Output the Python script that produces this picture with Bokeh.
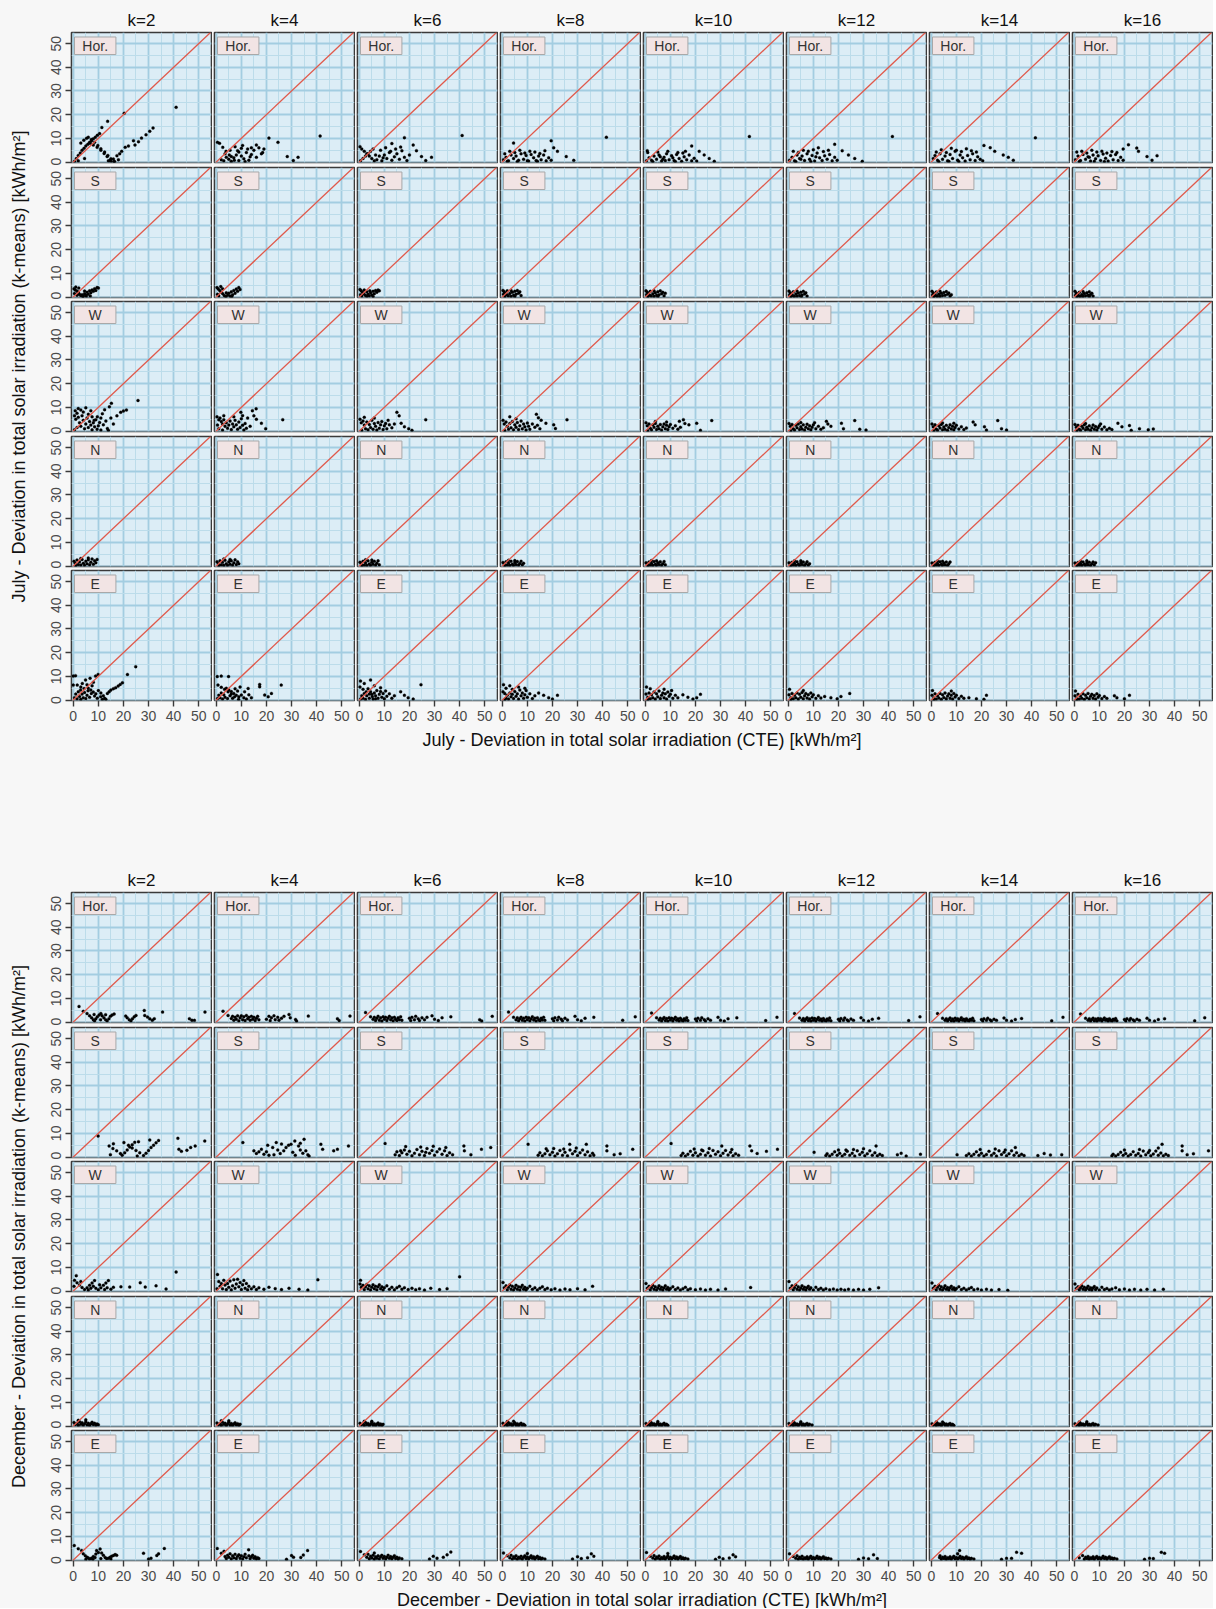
import math
from bokeh.plotting import figure
from bokeh.layouts import row, column
from bokeh.models import Range1d, Slope, Label, BoxAnnotation, FixedTicker, Spacer
from bokeh.embed import file_html
from bokeh.resources import INLINE
from bokeh.core.properties import value

# ---------------- text / categories ----------------
K_LABELS = ["k=2", "k=4", "k=6", "k=8", "k=10", "k=12", "k=14", "k=16"]
ORIENTS = ["Hor.", "S", "W", "N", "E"]
MAJOR_TICKS = [0, 10, 20, 30, 40, 50]
MINOR_TICKS = [5, 15, 25, 35, 45]
JUL_XTITLE = "July - Deviation in total solar irradiation (CTE) [kWh/m²]"
JUL_YTITLE = "July - Deviation in total solar irradiation (k-means) [kWh/m²]"
DEC_XTITLE = "December - Deviation in total solar irradiation (CTE) [kWh/m²]"
DEC_YTITLE = "December - Deviation in total solar irradiation (k-means) [kWh/m²]"

# ---------------- data: (CTE deviation, k-means deviation) per panel ----------------
JUL_HOR_K2 = [(0.5,0.3),(1.2,1.5),(2.0,2.8),(2.8,3.8),(3.5,5.0),(4.3,5.8),(5.0,6.8),(5.8,7.5),(6.5,8.3),(7.3,9.0),(8.0,9.8),(8.8,10.5),(9.6,11.3),(10.5,12.0),(11.4,14.6),(13.7,17.2),(3.0,8.0),(4.2,9.2),(5.3,10.0),(6.8,7.9),(8.0,7.2),(9.5,6.2),(11.0,5.0),(12.3,3.6),(13.5,2.3),(14.7,0.8),(6.0,10.5),(7.2,9.5),(8.5,8.3),(9.8,7.0),(11.0,5.6),(12.5,4.2),(13.8,2.8),(15.0,1.4),(16.2,0.2),(15.0,0.3),(16.0,1.3),(17.4,2.7),(18.5,3.5),(19.3,4.5),(20.7,6.2),(22.0,6.8),(24.0,9.0),(24.6,7.2),(26.0,8.6),(27.2,10.1),(29.0,11.5),(30.5,13.0),(31.8,14.4),(20.3,20.6),(41.0,23.1),(14.0,0.5),(16.5,0.2),(18.0,1.0),(2.0,0.5),(4.5,1.5)]
JUL_HOR_K4 = [(0.5,8.3),(1.3,7.9),(2.6,6.2),(3.9,4.5),(5.2,3.0),(6.0,2.3),(7.2,0.8),(2.0,1.0),(3.0,0.5),(4.0,2.0),(5.0,1.2),(6.0,0.3),(7.0,1.8),(8.0,3.0),(9.0,0.6),(10.0,2.5),(11.0,1.4),(12.0,4.0),(13.0,0.8),(14.0,3.2),(15.0,5.0),(16.0,2.0),(17.0,6.0),(18.0,3.5),(19.0,5.5),(5.5,5.0),(7.5,6.5),(9.0,4.2),(10.5,7.0),(12.5,5.5),(14.0,6.0),(16.0,7.2),(18.5,4.0),(21.0,10.1),(24.6,8.3),(28.3,2.3),(30.7,0.6),(32.6,2.0),(41.4,11.0),(3.5,3.5),(11.5,0.2),(13.5,2.2),(8.5,4.8),(10.0,5.8)]
JUL_HOR_K6 = [(0.3,6.5),(1.0,5.5),(2.0,4.5),(3.0,3.5),(4.0,2.5),(5.0,1.5),(6.0,0.5),(0.5,0.5),(1.5,1.5),(2.5,2.5),(3.5,3.5),(4.5,4.5),(5.5,5.5),(7.0,1.0),(8.0,2.5),(9.0,0.5),(10.0,3.0),(11.0,1.5),(12.0,4.0),(13.0,0.8),(14.0,2.2),(15.0,3.5),(16.0,1.2),(17.0,4.8),(18.0,2.0),(19.0,0.6),(20.0,3.0),(8.5,5.0),(10.5,6.0),(12.5,4.5),(14.5,5.5),(16.5,6.3),(13.0,7.8),(18.0,10.3),(21.5,7.2),(22.8,4.8),(24.8,2.3),(26.5,0.6),(28.8,2.0),(41.0,11.2),(6.5,3.0),(9.5,1.8)]
JUL_HOR_K8 = [(0.5,1.0),(1.5,2.0),(2.5,0.5),(3.5,3.0),(4.5,1.5),(5.5,2.5),(6.5,0.8),(7.5,3.5),(8.5,1.2),(9.5,2.8),(10.5,0.4),(11.5,3.2),(12.5,1.8),(13.5,0.6),(14.5,2.5),(15.5,1.0),(16.5,3.0),(17.5,0.5),(18.5,1.8),(19.5,0.8),(1.0,3.5),(3.0,4.5),(5.0,4.0),(7.0,5.0),(9.0,3.8),(11.0,4.6),(13.0,4.2),(15.0,3.6),(17.0,4.8),(2.0,0.3),(6.0,0.2),(10.0,0.5),(14.0,0.3),(4.5,8.0),(19.5,9.0),(20.5,6.0),(22.0,4.5),(25.5,2.3),(28.5,0.7),(41.5,10.5)]
JUL_HOR_K10 = [(0.5,0.5),(1.5,1.8),(2.5,0.8),(3.5,2.5),(4.5,1.2),(5.5,3.0),(6.5,0.4),(7.5,2.0),(8.5,3.5),(9.5,1.0),(10.5,2.6),(11.5,0.6),(12.5,3.2),(13.5,1.5),(14.5,0.3),(15.5,2.2),(16.5,1.0),(17.5,3.0),(18.5,0.5),(19.5,1.6),(20.5,0.4),(1.0,4.0),(3.0,0.2),(5.0,4.2),(7.0,1.2),(9.0,4.5),(11.0,1.8),(13.0,4.0),(15.0,3.8),(12.0,0.2),(8.0,0.6),(16.0,4.5),(0.8,4.8),(18.5,6.8),(21.5,4.5),(23.5,3.0),(25.5,1.5),(27.5,0.3),(41.5,10.8),(6.0,2.2)]
JUL_HOR_K12 = [(0.5,0.8),(1.5,2.0),(2.5,0.5),(3.5,3.0),(4.5,1.5),(5.5,2.5),(6.5,0.6),(7.5,3.5),(8.5,1.2),(9.5,2.8),(10.5,0.4),(11.5,3.8),(12.5,1.8),(13.5,0.6),(14.5,2.6),(15.5,1.2),(16.5,3.2),(17.5,0.5),(18.5,2.0),(19.5,0.8),(2.0,4.5),(4.0,4.0),(6.0,5.0),(8.0,4.6),(10.0,5.2),(12.0,6.0),(14.0,4.4),(16.0,5.0),(3.0,0.2),(9.0,0.2),(18.5,7.5),(21.5,4.8),(24.0,3.0),(26.5,1.5),(29.5,0.3),(41.5,10.8),(5.0,1.2),(11.0,2.2)]
JUL_HOR_K14 = [(0.8,1.5),(1.5,2.8),(2.5,0.8),(3.5,3.5),(4.5,1.2),(5.5,2.5),(6.5,0.5),(7.5,3.2),(8.5,1.5),(9.5,4.5),(10.5,0.8),(11.5,3.0),(12.5,1.8),(13.5,0.4),(14.5,2.8),(15.5,1.0),(16.5,3.5),(17.5,0.6),(18.5,2.2),(19.5,1.2),(20.5,0.5),(2.0,4.2),(4.0,5.2),(6.0,4.0),(8.0,5.8),(10.0,5.0),(12.0,4.4),(14.0,5.6),(16.0,4.8),(18.0,4.2),(3.0,0.2),(7.0,0.3),(11.0,0.2),(21.0,7.0),(23.5,6.0),(25.3,4.5),(28.7,3.0),(30.7,2.0),(32.7,0.8),(41.5,10.2)]
JUL_HOR_K16 = [(0.5,1.0),(1.5,2.5),(2.5,0.6),(3.5,3.2),(4.5,1.2),(5.5,2.2),(6.5,0.4),(7.5,3.0),(8.5,1.4),(9.5,2.6),(10.5,0.6),(11.5,3.4),(12.5,1.6),(13.5,0.4),(14.5,2.8),(15.5,1.0),(16.5,3.2),(17.5,0.6),(18.5,2.0),(19.5,0.8),(1.0,4.2),(3.0,4.6),(5.0,3.8),(7.0,5.0),(9.0,4.2),(11.0,4.6),(13.0,3.8),(15.0,4.4),(17.0,4.0),(2.0,0.2),(8.0,0.3),(12.0,0.2),(21.6,7.3),(24.9,5.9),(25.6,4.5),(29.0,2.3),(31.0,0.8),(33.0,2.7),(19.5,5.5),(6.0,2.0)]

JUL_S_K2 = [(0.3,3.5),(0.8,3.0),(1.5,2.5),(2.0,2.0),(2.5,1.2),(3.0,0.6),(3.5,1.0),(4.0,0.4),(4.5,1.4),(5.0,0.8),(5.5,2.0),(6.0,1.2),(6.5,2.6),(7.0,1.8),(7.5,3.0),(8.0,2.4),(8.5,3.5),(9.0,2.8),(9.5,4.0),(10.0,3.8),(1.0,4.2),(2.2,3.8),(3.8,0.2),(5.2,0.3),(6.8,0.4),(1.5,0.8),(4.5,2.5),(0.5,1.5)]
JUL_S_K4 = [(0.3,4.0),(0.8,3.4),(1.4,2.8),(2.0,2.0),(2.6,1.4),(3.2,0.6),(3.8,0.2),(4.5,0.8),(5.0,1.6),(5.5,0.4),(6.0,2.2),(6.5,1.0),(7.0,2.8),(7.5,1.6),(8.0,3.4),(8.5,2.4),(9.0,4.0),(9.5,3.2),(1.0,0.5),(2.5,3.5),(4.0,1.8),(6.2,0.2),(1.8,4.4),(0.5,1.2)]
JUL_S_K6 = [(0.3,3.2),(0.8,2.6),(1.3,2.0),(1.8,1.4),(2.4,0.8),(3.0,0.3),(3.5,1.2),(4.0,0.5),(4.5,1.8),(5.0,0.9),(5.5,2.4),(6.0,1.4),(6.5,2.8),(7.0,2.0),(7.5,3.0),(8.0,2.6),(1.0,0.4),(2.0,3.0),(3.0,2.2),(0.5,1.0),(4.2,2.6),(5.5,0.2)]
JUL_S_K8 = [(0.3,2.8),(0.8,2.2),(1.3,1.6),(1.8,1.0),(2.4,0.5),(3.0,1.5),(3.5,0.3),(4.0,2.0),(4.5,0.8),(5.0,2.4),(5.5,1.2),(6.0,2.8),(6.5,1.6),(7.0,2.2),(7.5,0.6),(1.0,0.3),(2.0,2.6),(0.5,1.2),(3.5,2.8),(5.0,0.2)]
JUL_S_K10 = [(0.3,2.6),(0.8,2.0),(1.3,1.4),(1.8,0.8),(2.4,0.4),(3.0,1.4),(3.5,0.3),(4.0,1.8),(4.5,0.7),(5.0,2.2),(5.5,1.0),(6.0,2.6),(6.5,1.4),(7.0,2.0),(7.5,0.5),(1.0,0.2),(2.0,2.4),(0.5,1.0),(3.5,2.6),(5.0,0.2),(8.0,1.6)]
JUL_S_K12 = [(0.3,2.5),(0.8,1.8),(1.3,1.2),(1.8,0.6),(2.4,0.3),(3.0,1.3),(3.5,0.4),(4.0,1.7),(4.5,0.6),(5.0,2.0),(5.5,0.9),(6.0,2.4),(6.5,1.3),(7.0,1.8),(7.5,0.4),(1.0,0.2),(2.0,2.2),(0.5,0.9),(3.5,2.5),(5.2,0.2)]
JUL_S_K14 = [(0.3,2.4),(0.8,1.7),(1.3,1.1),(1.8,0.6),(2.4,0.3),(3.0,1.2),(3.5,0.3),(4.0,1.6),(4.5,0.6),(5.0,1.9),(5.5,0.8),(6.0,2.3),(6.5,1.2),(7.0,1.7),(7.5,0.4),(1.0,0.2),(2.0,2.1),(0.5,0.9),(3.5,2.4),(8.0,1.0)]
JUL_S_K16 = [(0.3,2.4),(0.8,1.6),(1.3,1.0),(1.8,0.5),(2.4,0.3),(3.0,1.1),(3.5,0.3),(4.0,1.5),(4.5,0.5),(5.0,1.8),(5.5,0.8),(6.0,2.2),(6.5,1.1),(7.0,1.6),(7.5,0.4),(1.0,0.2),(2.0,2.0),(0.5,0.8),(3.5,2.3),(6.0,0.3)]

JUL_W_K2 = [(0.8,8.6),(1.5,7.5),(3.0,8.9),(4.0,8.0),(6.0,7.1),(7.5,6.0),(9.0,4.8),(10.5,3.6),(12.0,2.6),(13.6,1.1),(0.5,6.5),(1.0,5.0),(2.0,5.8),(2.5,3.5),(3.0,2.0),(4.0,4.5),(4.5,1.0),(5.0,3.0),(5.5,5.5),(6.0,1.5),(6.5,4.0),(7.0,2.5),(7.5,0.5),(8.0,3.5),(8.5,1.8),(9.5,0.8),(10.0,2.2),(11.0,0.4),(1.5,1.5),(0.5,0.5),(2.0,9.5),(5.0,9.8),(7.0,8.6),(8.3,4.5),(9.6,6.0),(11.6,7.3),(12.5,9.0),(14.4,10.2),(15.2,11.7),(17.4,6.4),(18.9,7.9),(20.0,8.5),(21.2,8.9),(25.8,12.9),(11.0,5.5),(13.0,4.2),(15.0,5.5),(16.0,3.0),(14.0,0.3),(3.5,6.5)]
JUL_W_K4 = [(0.3,6.0),(1.0,4.8),(1.5,5.5),(2.0,4.0),(2.5,3.0),(3.0,4.8),(3.5,2.0),(4.0,3.5),(4.5,1.2),(5.0,2.5),(5.5,4.2),(6.0,0.6),(6.5,3.0),(7.0,1.8),(7.5,4.5),(8.0,2.6),(8.5,0.8),(9.0,3.8),(9.5,1.5),(10.0,5.2),(10.5,2.4),(11.0,0.4),(11.5,3.2),(12.0,1.2),(1.0,1.0),(0.5,2.5),(2.5,0.4),(9.8,7.9),(10.5,6.5),(12.5,5.5),(14.4,8.6),(15.9,9.4),(15.0,6.4),(16.0,5.0),(18.0,3.3),(19.7,1.0),(26.5,4.8),(13.5,2.0),(3.0,6.5),(7.0,6.0)]
JUL_W_K6 = [(0.3,5.0),(0.8,3.5),(1.5,4.2),(2.0,2.5),(2.5,1.0),(3.0,3.8),(3.5,0.5),(4.0,2.8),(4.5,1.5),(5.0,4.5),(5.5,0.8),(6.0,3.2),(6.5,2.0),(7.0,0.4),(7.5,3.6),(8.0,1.2),(8.5,2.6),(9.0,4.0),(9.5,0.6),(10.0,2.2),(10.5,3.2),(11.0,1.0),(12.0,2.6),(13.0,1.4),(14.0,3.0),(1.0,0.3),(2.0,5.8),(11.5,4.5),(15.0,7.9),(15.9,6.4),(16.7,3.3),(18.0,1.8),(19.7,1.0),(21.0,0.3),(26.5,4.8),(6.0,5.5)]
JUL_W_K8 = [(0.3,4.5),(0.8,3.0),(1.5,3.8),(2.0,2.0),(2.5,0.8),(3.0,3.2),(3.5,1.4),(4.0,4.0),(4.5,0.5),(5.0,2.6),(5.5,1.6),(6.0,3.6),(6.5,0.6),(7.0,2.2),(7.5,4.2),(8.0,1.0),(8.5,3.0),(9.0,1.8),(9.5,0.4),(10.0,3.4),(10.5,2.0),(11.0,0.8),(12.0,3.0),(13.0,1.6),(14.0,2.4),(15.0,1.0),(1.0,0.2),(5.5,5.2),(13.6,7.1),(14.4,5.6),(15.5,4.6),(17.4,3.3),(20.5,2.6),(21.2,1.1),(25.8,4.8),(3.0,6.0)]
JUL_W_K10 = [(0.3,3.5),(0.8,2.2),(1.5,3.0),(2.0,1.2),(2.5,0.5),(3.0,2.6),(3.5,1.6),(4.0,3.2),(4.5,0.6),(5.0,2.0),(5.5,1.0),(6.0,2.8),(6.5,0.4),(7.0,1.8),(7.5,3.0),(8.0,1.0),(8.5,2.4),(9.0,0.6),(9.5,1.8),(10.0,2.8),(11.0,1.2),(12.0,2.2),(13.0,0.8),(14.0,1.6),(1.0,0.2),(4.0,4.0),(13.6,4.1),(15.2,4.8),(15.8,3.2),(17.4,2.6),(20.5,3.3),(22.0,0.3),(26.5,4.4),(8.5,3.8)]
JUL_W_K12 = [(0.3,3.2),(0.8,2.0),(1.5,2.8),(2.0,1.0),(2.5,0.4),(3.0,2.4),(3.5,1.4),(4.0,3.0),(4.5,0.6),(5.0,1.8),(5.5,0.9),(6.0,2.6),(6.5,0.4),(7.0,1.6),(7.5,2.9),(8.0,1.0),(8.5,2.2),(9.0,0.5),(9.5,1.6),(10.0,2.6),(11.0,1.0),(12.0,2.0),(13.0,0.7),(14.0,1.4),(1.0,0.2),(5.0,3.6),(15.2,4.1),(15.8,3.0),(17.0,2.0),(21.2,3.3),(22.0,1.0),(26.5,4.4),(10.5,3.5),(28.5,0.8),(31.0,0.4)]
JUL_W_K14 = [(0.3,3.0),(0.8,1.8),(1.5,2.6),(2.0,0.9),(2.5,0.3),(3.0,2.2),(3.5,1.3),(4.0,2.8),(4.5,0.5),(5.0,1.7),(5.5,0.8),(6.0,2.4),(6.5,0.3),(7.0,1.5),(7.5,2.7),(8.0,0.9),(8.5,2.0),(9.0,0.5),(9.5,1.5),(10.0,2.4),(11.0,0.9),(12.0,1.8),(13.0,0.6),(14.0,1.3),(1.0,0.2),(4.5,3.4),(16.7,3.8),(17.5,2.6),(21.2,1.8),(22.0,0.4),(26.5,4.4),(9.0,3.3),(28.0,1.0),(30.0,0.4)]
JUL_W_K16 = [(0.3,2.8),(0.8,1.6),(1.5,2.4),(2.0,0.8),(2.5,0.3),(3.0,2.0),(3.5,1.2),(4.0,2.6),(4.5,0.5),(5.0,1.6),(5.5,0.8),(6.0,2.2),(6.5,0.3),(7.0,1.4),(7.5,2.5),(8.0,0.8),(8.5,1.9),(9.0,0.4),(9.5,1.4),(10.0,2.2),(11.0,0.8),(12.0,1.7),(13.0,0.5),(14.0,1.2),(15.0,0.6),(1.0,0.2),(4.5,3.2),(17.4,3.3),(19.0,1.8),(22.0,2.3),(22.7,0.3),(10.5,3.0),(26.0,1.0),(29.5,0.5),(31.5,0.9)]

JUL_N_K2 = [(0.3,2.0),(0.8,1.2),(1.5,2.5),(2.0,0.6),(2.5,1.8),(3.0,0.4),(3.5,2.8),(4.0,1.2),(4.5,0.3),(5.0,2.0),(5.5,1.0),(6.0,2.6),(6.5,0.5),(7.0,1.6),(7.5,3.0),(8.0,0.8),(8.5,2.2),(9.0,1.4),(9.5,2.8),(1.0,0.2),(3.0,3.2),(6.0,3.4)]
JUL_N_K4 = [(0.3,1.8),(0.8,1.0),(1.5,2.2),(2.0,0.5),(2.5,1.6),(3.0,0.3),(3.5,2.4),(4.0,1.0),(4.5,0.3),(5.0,1.8),(5.5,0.8),(6.0,2.2),(6.5,0.4),(7.0,1.4),(7.5,2.6),(8.0,0.6),(8.5,1.8),(9.0,1.0),(1.0,0.2),(3.0,3.0),(5.5,2.8)]
JUL_N_K6 = [(0.3,1.6),(0.8,0.9),(1.5,2.0),(2.0,0.4),(2.5,1.4),(3.0,0.3),(3.5,2.2),(4.0,0.9),(4.5,0.3),(5.0,1.6),(5.5,0.7),(6.0,2.0),(6.5,0.4),(7.0,1.2),(7.5,2.2),(8.0,0.5),(1.0,0.2),(2.5,2.6),(5.0,2.5)]
JUL_N_K8 = [(0.3,1.5),(0.8,0.8),(1.5,1.8),(2.0,0.4),(2.5,1.3),(3.0,0.3),(3.5,2.0),(4.0,0.8),(4.5,0.3),(5.0,1.5),(5.5,0.6),(6.0,1.9),(6.5,0.4),(7.0,1.1),(7.5,2.0),(8.0,0.5),(1.0,0.2),(2.5,2.4),(5.0,2.3),(8.5,1.2)]
JUL_N_K10 = [(0.3,1.4),(0.8,0.8),(1.5,1.7),(2.0,0.4),(2.5,1.2),(3.0,0.3),(3.5,1.9),(4.0,0.8),(4.5,0.3),(5.0,1.4),(5.5,0.6),(6.0,1.8),(6.5,0.4),(7.0,1.0),(7.5,1.9),(8.0,0.5),(1.0,0.2),(2.5,2.3),(4.5,2.2)]
JUL_N_K12 = [(0.3,1.4),(0.8,0.7),(1.5,1.6),(2.0,0.4),(2.5,1.2),(3.0,0.3),(3.5,1.8),(4.0,0.7),(4.5,0.3),(5.0,1.4),(5.5,0.6),(6.0,1.7),(6.5,0.3),(7.0,1.0),(7.5,1.8),(8.0,0.4),(1.0,0.2),(2.5,2.2),(5.0,2.2),(8.5,1.0)]
JUL_N_K14 = [(0.3,1.3),(0.8,0.7),(1.5,1.6),(2.0,0.4),(2.5,1.1),(3.0,0.3),(3.5,1.8),(4.0,0.7),(4.5,0.3),(5.0,1.3),(5.5,0.5),(6.0,1.7),(6.5,0.3),(7.0,1.0),(7.5,1.7),(1.0,0.2),(2.5,2.1),(4.5,2.0)]
JUL_N_K16 = [(0.3,1.3),(0.8,0.7),(1.5,1.5),(2.0,0.4),(2.5,1.1),(3.0,0.3),(3.5,1.7),(4.0,0.7),(4.5,0.3),(5.0,1.3),(5.5,0.5),(6.0,1.6),(6.5,0.3),(7.0,1.0),(7.5,1.7),(8.0,0.5),(1.0,0.2),(2.5,2.0),(5.0,2.2),(8.5,1.4)]

JUL_E_K2 = [(0.0,10.1),(0.9,10.3),(0.0,6.3),(1.6,6.3),(3.6,7.0),(4.9,8.5),(6.7,9.2),(8.9,10.1),(9.9,10.8),(2.9,4.2),(4.3,4.9),(5.9,3.9),(7.2,2.8),(8.5,1.7),(9.6,0.7),(10.9,1.4),(11.6,0.3),(13.6,2.8),(14.3,3.5),(16.9,5.2),(17.9,5.9),(18.7,6.6),(19.6,7.3),(21.6,10.8),(24.9,14.1),(0.5,1.0),(1.0,2.5),(1.5,0.5),(2.0,3.5),(2.5,1.5),(3.0,0.3),(3.5,2.5),(4.0,1.0),(4.5,3.2),(5.0,0.6),(5.5,2.0),(6.0,5.0),(6.5,1.2),(7.0,4.2),(7.5,6.0),(8.0,3.4),(9.0,2.6),(10.0,4.0),(11.0,3.0),(12.0,1.8),(12.5,0.8),(13.0,0.3),(15.0,4.2),(16.0,4.8),(3.0,5.5),(5.5,6.5),(8.0,7.5)]
JUL_E_K4 = [(0.4,9.9),(2.0,10.1),(4.9,9.9),(0.7,6.3),(2.0,5.4),(3.3,4.5),(4.7,3.5),(6.0,2.5),(7.3,1.4),(8.9,0.3),(0.5,0.6),(1.0,2.0),(1.5,1.0),(2.0,3.0),(2.5,0.4),(3.0,2.2),(3.5,1.2),(4.0,5.0),(4.5,0.6),(5.0,4.2),(5.5,1.8),(6.0,3.6),(6.5,0.8),(7.0,2.8),(7.5,4.8),(8.0,2.0),(8.5,3.8),(9.0,1.4),(10.0,2.1),(11.3,3.5),(12.7,4.9),(11.0,1.0),(12.0,0.4),(13.0,2.2),(14.0,1.0),(17.3,6.6),(17.3,5.6),(19.3,2.1),(20.7,1.4),(22.0,2.8),(25.9,6.3),(9.5,5.5)]
JUL_E_K6 = [(0.5,8.0),(2.0,7.0),(4.5,8.5),(0.3,5.5),(1.5,4.5),(2.8,3.5),(4.0,2.5),(5.2,1.5),(6.5,0.5),(0.5,0.4),(1.0,1.8),(1.5,0.8),(2.0,2.8),(2.5,0.3),(3.0,1.8),(3.5,4.8),(4.0,0.8),(4.5,3.5),(5.0,2.4),(5.5,0.4),(6.0,3.0),(6.5,1.8),(7.0,4.0),(7.5,0.8),(8.0,2.4),(8.5,3.6),(9.0,1.2),(9.5,2.8),(10.0,0.5),(10.5,3.8),(11.0,1.6),(12.0,2.6),(13.0,0.8),(14.0,1.8),(6.0,6.0),(8.5,5.2),(16.5,3.5),(18.0,2.0),(19.5,1.0),(21.5,0.4),(24.6,6.5)]
JUL_E_K8 = [(0.5,6.5),(1.5,5.0),(3.0,6.0),(0.3,3.5),(1.0,2.8),(1.5,0.8),(2.0,2.0),(2.5,0.4),(3.0,3.0),(3.5,1.4),(4.0,2.4),(4.5,0.6),(5.0,3.6),(5.5,1.6),(6.0,2.6),(6.5,0.4),(7.0,4.2),(7.5,1.8),(8.0,3.0),(8.5,0.8),(9.0,2.2),(9.5,4.0),(10.0,1.2),(11.0,2.6),(12.0,0.6),(13.0,1.8),(1.0,0.2),(6.5,5.5),(9.0,5.0),(14.5,3.0),(16.5,2.0),(18.5,1.0),(20.0,0.4),(22.0,2.0),(4.0,4.5)]
JUL_E_K10 = [(0.5,5.5),(2.0,4.8),(0.3,2.5),(1.0,1.2),(1.5,3.0),(2.0,0.5),(2.5,2.2),(3.0,1.0),(3.5,3.4),(4.0,0.4),(4.5,2.6),(5.0,1.4),(5.5,3.8),(6.0,0.6),(6.5,2.0),(7.0,3.0),(7.5,1.0),(8.0,2.6),(8.5,0.4),(9.0,3.4),(9.5,1.6),(10.0,2.4),(11.0,0.8),(12.0,2.0),(13.0,1.0),(1.0,0.2),(7.5,4.6),(10.5,4.0),(15.0,2.2),(17.0,1.2),(19.0,0.4),(20.5,1.0),(22.0,2.4)]
JUL_E_K12 = [(0.5,4.5),(0.3,2.2),(1.0,1.0),(1.5,2.8),(2.0,0.5),(2.5,2.0),(3.0,1.0),(3.5,3.0),(4.0,0.4),(4.5,2.4),(5.0,1.2),(5.5,3.2),(6.0,0.5),(6.5,1.8),(7.0,2.8),(7.5,0.9),(8.0,2.2),(8.5,0.4),(9.0,3.0),(9.5,1.4),(10.0,2.2),(11.0,0.7),(12.0,1.8),(13.0,0.9),(1.0,0.2),(6.0,4.0),(14.5,1.5),(17.0,1.0),(19.5,0.5),(21.0,1.5),(24.5,2.8)]
JUL_E_K14 = [(0.5,4.0),(0.3,2.0),(1.0,0.9),(1.5,2.6),(2.0,0.4),(2.5,1.8),(3.0,0.9),(3.5,2.8),(4.0,0.3),(4.5,2.2),(5.0,1.1),(5.5,3.0),(6.0,0.5),(6.5,1.7),(7.0,2.6),(7.5,0.8),(8.0,2.0),(8.5,0.4),(9.0,2.8),(9.5,1.3),(10.0,2.0),(11.0,0.6),(12.0,1.6),(13.0,0.8),(1.0,0.2),(8.0,3.8),(15.0,1.0),(18.0,0.5),(21.0,0.3),(22.0,2.0)]
JUL_E_K16 = [(0.5,3.8),(0.3,1.8),(1.0,0.8),(1.5,2.4),(2.0,0.4),(2.5,1.7),(3.0,0.8),(3.5,2.6),(4.0,0.3),(4.5,2.0),(5.0,1.0),(5.5,2.8),(6.0,0.5),(6.5,1.6),(7.0,2.4),(7.5,0.7),(8.0,1.9),(8.5,0.4),(9.0,2.6),(9.5,1.2),(10.0,1.9),(11.0,0.6),(12.0,1.5),(13.0,0.7),(1.0,0.2),(17.0,1.0),(20.0,0.5),(22.0,2.0),(16.0,1.8)]

DEC_HOR_K2 = [(2.3,6.6),(4.0,4.5),(5.5,3.6),(6.5,2.6),(7.3,1.8),(8.0,1.0),(8.5,0.5),(9.0,1.4),(9.6,2.2),(10.3,3.0),(11.0,3.6),(11.5,2.6),(12.2,1.8),(12.9,1.0),(13.5,0.5),(14.2,1.4),(14.8,2.4),(15.5,3.0),(16.3,3.4),(8.3,3.2),(10.9,1.0),(12.9,3.1),(20.9,2.5),(21.5,1.8),(22.3,1.0),(23.0,0.5),(23.6,1.4),(24.3,2.2),(25.0,2.8),(28.3,4.9),(28.5,2.8),(29.6,2.1),(30.5,1.4),(31.5,0.8),(32.3,1.4),(35.6,4.2),(46.3,1.4),(47.3,0.8),(48.3,0.7),(52.5,4.2)]
DEC_HOR_K4 = [(2.7,4.6),(4.7,2.8),(6.0,1.5),(6.5,2.4),(7.0,0.8),(7.5,2.0),(8.0,1.2),(8.5,2.6),(9.0,0.5),(9.5,1.8),(10.0,2.6),(10.5,1.0),(11.0,2.2),(11.5,0.6),(12.0,2.8),(12.5,1.4),(13.0,2.0),(13.5,0.8),(14.0,2.4),(14.5,1.2),(15.0,2.0),(15.5,0.6),(16.0,1.6),(16.5,2.4),(17.0,1.0),(20.0,1.2),(21.0,2.4),(21.5,0.6),(22.0,1.8),(23.0,2.6),(23.5,1.0),(24.5,2.0),(25.0,0.8),(26.0,1.6),(27.0,2.4),(29.0,3.2),(29.5,1.8),(31.6,1.1),(32.0,0.4),(36.7,2.5),(48.3,1.4),(49.0,0.6),(53.3,2.5)]
DEC_HOR_K6 = [(2.5,4.0),(4.5,2.2),(5.5,1.2),(6.0,2.0),(6.5,0.6),(7.0,1.6),(7.5,2.4),(8.0,0.8),(8.5,1.8),(9.0,0.4),(9.5,2.2),(10.0,1.2),(10.5,2.0),(11.0,0.6),(11.5,1.6),(12.0,2.4),(12.5,1.0),(13.0,1.8),(13.5,0.5),(14.0,2.0),(14.5,1.2),(15.0,0.6),(15.5,1.8),(16.0,1.0),(16.5,2.2),(17.0,0.8),(20.0,1.6),(20.5,0.6),(21.0,2.0),(22.0,1.0),(22.5,2.4),(23.5,1.4),(24.0,0.6),(25.0,1.8),(26.0,1.0),(27.0,2.0),(29.0,2.6),(30.0,1.2),(31.5,0.6),(33.0,1.8),(36.5,2.2),(48.0,1.0),(48.8,0.4),(53.0,2.4)]
DEC_HOR_K8 = [(2.5,4.2),(4.5,2.0),(5.5,1.0),(6.0,1.8),(6.5,0.5),(7.0,1.4),(7.5,2.0),(8.0,0.7),(8.5,1.6),(9.0,0.4),(9.5,2.0),(10.0,1.0),(10.5,1.8),(11.0,0.5),(11.5,1.4),(12.0,2.2),(12.5,0.9),(13.0,1.6),(13.5,0.4),(14.0,1.8),(14.5,1.0),(15.0,0.5),(15.5,1.6),(16.0,0.9),(16.5,2.0),(17.0,0.7),(20.0,1.4),(20.5,0.5),(21.0,1.8),(22.0,0.9),(22.5,2.0),(23.5,1.2),(24.0,0.5),(25.0,1.6),(26.0,0.9),(29.0,2.4),(30.0,1.0),(31.5,0.5),(33.0,1.6),(36.5,2.0),(48.0,0.8),(53.0,2.2)]
DEC_HOR_K10 = [(2.5,3.8),(4.5,1.8),(5.5,0.9),(6.0,1.6),(6.5,0.4),(7.0,1.3),(7.5,1.9),(8.0,0.6),(8.5,1.5),(9.0,0.4),(9.5,1.8),(10.0,0.9),(10.5,1.6),(11.0,0.4),(11.5,1.3),(12.0,2.0),(12.5,0.8),(13.0,1.4),(13.5,0.4),(14.0,1.6),(14.5,0.9),(15.0,0.4),(15.5,1.4),(16.0,0.8),(16.5,1.8),(17.0,0.6),(20.0,1.3),(20.5,0.4),(21.0,1.6),(22.0,0.8),(22.5,1.8),(23.5,1.0),(24.0,0.4),(25.0,1.4),(26.0,0.8),(29.0,2.0),(30.0,0.8),(31.5,0.4),(33.0,1.4),(36.5,1.8),(48.0,0.6),(52.5,2.0)]
DEC_HOR_K12 = [(2.5,3.6),(4.5,1.7),(5.5,0.8),(6.0,1.5),(6.5,0.4),(7.0,1.2),(7.5,1.8),(8.0,0.6),(8.5,1.4),(9.0,0.4),(9.5,1.7),(10.0,0.8),(10.5,1.5),(11.0,0.4),(11.5,1.2),(12.0,1.9),(12.5,0.7),(13.0,1.3),(13.5,0.4),(14.0,1.5),(14.5,0.8),(15.0,0.4),(15.5,1.3),(16.0,0.7),(16.5,1.7),(17.0,0.5),(20.0,1.2),(20.5,0.4),(21.0,1.5),(22.0,0.7),(22.5,1.7),(23.5,0.9),(24.0,0.4),(25.0,1.3),(26.0,0.7),(29.0,1.8),(30.0,0.7),(32.0,0.4),(33.5,1.2),(36.0,1.6),(48.0,0.6),(52.5,2.2)]
DEC_HOR_K14 = [(2.5,3.6),(4.5,1.6),(5.5,0.8),(6.0,1.4),(6.5,0.4),(7.0,1.1),(7.5,1.7),(8.0,0.5),(8.5,1.3),(9.0,0.4),(9.5,1.6),(10.0,0.8),(10.5,1.4),(11.0,0.4),(11.5,1.1),(12.0,1.8),(12.5,0.7),(13.0,1.2),(13.5,0.4),(14.0,1.4),(14.5,0.8),(15.0,0.4),(15.5,1.2),(16.0,0.7),(16.5,1.6),(17.0,0.5),(20.0,1.1),(20.5,0.4),(21.0,1.4),(22.0,0.7),(22.5,1.6),(23.5,0.9),(24.0,0.4),(25.0,1.2),(26.0,0.7),(29.0,1.7),(30.0,0.7),(32.0,0.4),(33.5,1.1),(36.0,1.5),(48.0,0.5),(52.5,2.0)]
DEC_HOR_K16 = [(2.5,3.4),(4.5,1.6),(5.5,0.8),(6.0,1.4),(6.5,0.4),(7.0,1.1),(7.5,1.6),(8.0,0.5),(8.5,1.3),(9.0,0.4),(9.5,1.5),(10.0,0.8),(10.5,1.4),(11.0,0.4),(11.5,1.1),(12.0,1.7),(12.5,0.7),(13.0,1.2),(13.5,0.4),(14.0,1.4),(14.5,0.7),(15.0,0.4),(15.5,1.2),(16.0,0.7),(16.5,1.5),(17.0,0.5),(20.0,1.1),(20.5,0.4),(21.0,1.4),(22.0,0.7),(22.5,1.5),(23.5,0.9),(24.0,0.4),(25.0,1.2),(26.0,0.7),(29.0,1.6),(30.0,0.7),(32.0,0.4),(33.5,1.1),(36.0,1.4),(48.0,0.5),(52.0,1.8)]

DEC_S_K2 = [(9.9,8.9),(14.3,4.7),(15.8,3.6),(17.3,2.6),(18.8,1.5),(19.5,0.8),(20.5,1.8),(21.5,3.0),(22.5,4.2),(23.5,5.2),(24.5,6.2),(22.0,5.0),(23.5,3.8),(25.0,2.8),(26.5,1.8),(28.0,0.6),(29.0,1.6),(30.0,2.8),(31.0,4.0),(32.0,5.0),(33.0,6.0),(34.0,7.0),(16.0,5.6),(20.2,6.1),(26.0,6.5),(30.5,7.2),(41.7,7.9),(42.1,3.3),(43.1,2.4),(45.3,2.9),(46.8,4.0),(48.6,4.7),(52.4,6.8),(14.8,1.0),(25.5,0.4)]
DEC_S_K4 = [(10.6,6.1),(15.0,2.6),(16.0,1.5),(17.0,2.2),(18.0,3.3),(19.0,1.2),(20.0,2.2),(21.0,0.8),(22.5,4.0),(23.9,6.1),(24.5,3.0),(25.5,1.5),(26.9,2.6),(27.8,4.0),(28.8,5.0),(29.8,5.4),(31.3,6.8),(30.5,2.0),(31.5,0.8),(32.8,4.7),(33.5,3.0),(34.5,1.6),(35.0,7.5),(35.7,2.6),(36.5,1.0),(37.0,0.4),(20.5,5.0),(26.0,5.5),(33.5,5.8),(23.0,1.0),(41.7,5.4),(42.4,3.3),(46.8,2.6),(48.3,3.3),(52.7,4.7)]
DEC_S_K6 = [(10.3,5.7),(14.3,1.0),(15.0,2.2),(16.0,0.6),(17.0,1.8),(18.0,3.0),(19.0,1.2),(20.0,2.4),(21.0,0.5),(22.0,1.6),(23.0,3.2),(24.0,1.0),(25.0,2.4),(26.0,0.6),(27.0,3.6),(28.0,1.6),(29.0,2.8),(30.0,0.8),(31.0,2.2),(32.0,3.4),(33.0,1.2),(34.0,2.6),(35.0,0.6),(36.0,1.8),(37.2,1.0),(18.5,4.4),(24.5,4.2),(29.5,4.6),(34.5,4.0),(41.7,4.7),(41.9,2.6),(44.5,1.0),(48.7,3.3),(52.4,4.0),(16.5,2.6),(26.5,2.0)]
DEC_S_K8 = [(10.3,5.4),(14.3,0.8),(15.0,1.8),(16.0,0.5),(17.0,1.4),(18.0,2.6),(19.0,1.0),(20.0,2.0),(21.0,0.4),(22.0,1.4),(23.0,2.8),(24.0,0.8),(25.0,2.0),(26.0,0.5),(26.9,5.4),(27.0,3.0),(28.0,1.4),(29.0,2.4),(30.0,0.6),(31.0,1.8),(32.0,3.0),(33.0,1.0),(33.5,5.4),(34.0,2.2),(35.0,0.5),(36.0,1.6),(36.5,0.8),(20.5,3.6),(24.5,3.4),(29.5,3.8),(41.7,4.7),(41.7,2.6),(44.6,1.0),(47.0,1.4),(52.0,3.3),(17.5,3.5)]
DEC_S_K10 = [(10.3,5.7),(14.3,0.6),(15.0,1.6),(16.0,0.4),(17.0,1.2),(18.0,2.4),(19.0,0.8),(20.0,1.8),(21.0,0.4),(22.0,1.2),(23.0,2.6),(24.0,0.8),(25.0,1.8),(26.0,0.4),(27.0,2.8),(28.0,1.2),(29.0,2.2),(30.0,0.5),(31.0,1.6),(32.0,2.8),(33.0,0.9),(34.0,2.0),(35.0,0.5),(36.0,1.4),(37.2,0.8),(19.5,3.4),(25.5,3.6),(30.5,4.7),(34.5,3.2),(41.7,4.7),(42.4,2.6),(44.6,1.5),(48.3,2.4),(52.7,3.3),(22.5,3.0)]
DEC_S_K12 = [(10.3,2.0),(15.0,0.6),(15.5,1.4),(16.5,0.4),(17.5,1.2),(18.5,2.2),(19.5,0.8),(20.5,1.6),(21.5,0.4),(22.5,1.2),(23.5,2.4),(24.5,0.7),(25.5,1.6),(26.5,0.4),(27.5,2.6),(28.5,1.1),(29.5,2.0),(30.5,0.5),(31.5,1.4),(32.5,2.6),(33.5,0.8),(34.5,1.8),(35.5,0.5),(36.5,1.2),(37.5,0.6),(35.0,4.7),(20.0,3.0),(26.0,3.2),(30.0,3.5),(43.5,1.0),(45.0,1.6),(47.0,0.4),(52.7,1.2),(23.0,3.0)]
DEC_S_K14 = [(14.0,0.6),(15.0,1.4),(16.0,0.4),(17.0,1.2),(18.0,2.2),(19.0,0.7),(20.0,1.6),(21.0,0.4),(22.0,1.1),(23.0,2.4),(24.0,0.7),(25.0,1.6),(26.0,0.4),(27.0,2.6),(28.0,1.1),(29.0,2.0),(30.0,0.5),(31.0,1.4),(32.0,2.6),(33.0,0.8),(33.5,4.0),(34.0,1.8),(35.0,0.5),(36.0,1.2),(37.0,0.6),(19.5,3.2),(25.5,3.4),(29.5,3.0),(42.5,0.6),(45.0,1.5),(47.5,0.9),(52.0,1.0),(10.3,1.0)]
DEC_S_K16 = [(15.0,0.5),(15.5,1.2),(16.5,0.4),(17.5,1.1),(18.5,2.0),(19.5,0.7),(20.5,1.5),(21.5,0.4),(22.5,1.1),(23.5,2.2),(24.5,0.7),(25.5,1.5),(26.5,0.4),(27.5,2.5),(28.5,1.0),(29.5,1.9),(30.5,0.5),(31.5,1.3),(32.5,2.5),(33.5,0.8),(34.5,1.7),(35.0,5.4),(35.5,0.5),(36.5,1.2),(37.5,0.6),(20.0,3.0),(26.0,3.2),(30.0,2.8),(43.0,4.7),(43.0,2.6),(45.0,1.0),(47.5,1.4),(53.5,2.6),(33.5,3.8)]

DEC_W_K2 = [(1.2,6.5),(0.5,4.5),(1.5,3.5),(2.5,2.5),(3.5,1.5),(4.5,0.6),(5.5,1.4),(6.5,2.4),(7.5,3.4),(8.5,4.4),(6.0,0.4),(7.0,1.2),(8.0,2.0),(9.0,1.2),(10.0,0.5),(11.0,1.4),(12.0,2.4),(13.0,3.4),(14.0,4.4),(10.5,2.6),(12.5,0.6),(13.5,1.4),(15.0,0.8),(16.0,1.6),(3.0,4.0),(19.0,1.8),(22.5,1.7),(26.7,3.5),(28.7,1.7),(33.0,2.2),(37.0,0.9),(41.0,8.0),(0.3,2.0)]
DEC_W_K4 = [(0.5,7.0),(1.0,4.0),(1.5,2.0),(2.0,3.2),(2.5,1.0),(3.0,4.5),(3.5,2.5),(4.0,0.6),(4.5,3.2),(5.0,1.6),(5.5,4.2),(6.0,0.5),(6.5,2.2),(7.0,4.8),(7.5,1.2),(8.0,3.0),(8.5,5.0),(9.0,1.8),(9.5,3.6),(10.0,0.6),(10.5,2.6),(11.0,4.4),(11.5,1.2),(12.0,3.2),(12.5,0.5),(13.0,2.0),(14.0,1.0),(15.0,1.8),(16.0,0.6),(17.0,1.4),(19.0,0.8),(21.0,1.6),(23.5,1.0),(26.0,0.6),(29.0,1.2),(33.0,0.8),(36.5,0.4),(40.5,4.8),(0.3,1.0)]
DEC_W_K6 = [(0.3,3.0),(0.8,1.6),(1.5,2.4),(2.0,0.6),(2.5,1.8),(3.0,2.8),(3.5,1.0),(4.0,2.2),(4.5,0.4),(5.0,1.6),(5.5,2.6),(6.0,1.0),(6.5,2.0),(7.0,0.5),(7.5,1.8),(8.0,2.6),(8.5,1.0),(9.0,1.8),(9.5,0.4),(10.0,1.4),(11.0,2.2),(12.0,0.8),(13.0,1.6),(14.0,0.5),(15.0,1.4),(16.0,2.0),(17.0,0.8),(18.0,1.4),(19.5,0.6),(21.0,1.2),(22.5,0.5),(24.0,1.0),(26.0,0.4),(28.5,1.2),(32.0,0.6),(35.0,1.0),(40.0,6.0),(0.5,4.5)]
DEC_W_K8 = [(0.3,3.6),(0.8,1.4),(1.5,2.2),(2.0,0.5),(2.5,1.6),(3.0,2.6),(3.5,0.8),(4.0,2.0),(4.5,0.4),(5.0,1.4),(5.5,2.4),(6.0,0.8),(6.5,1.8),(7.0,0.4),(7.5,1.6),(8.0,2.4),(8.5,0.8),(9.0,1.6),(9.5,0.4),(10.0,1.2),(11.0,2.0),(12.0,0.7),(13.0,1.4),(14.0,0.4),(15.0,1.2),(16.0,1.8),(17.0,0.6),(18.0,1.2),(19.5,0.5),(21.0,1.0),(23.0,0.4),(25.0,0.9),(27.0,0.5),(30.0,1.0),(33.0,0.5),(36.0,2.0)]
DEC_W_K10 = [(0.3,3.2),(0.8,1.2),(1.5,2.0),(2.0,0.5),(2.5,1.5),(3.0,2.4),(3.5,0.8),(4.0,1.8),(4.5,0.4),(5.0,1.3),(5.5,2.2),(6.0,0.7),(6.5,1.6),(7.0,0.4),(7.5,1.4),(8.0,2.2),(8.5,0.7),(9.0,1.5),(9.5,0.4),(10.0,1.1),(11.0,1.8),(12.0,0.6),(13.0,1.3),(14.0,0.4),(15.0,1.0),(16.0,1.6),(17.0,0.5),(18.0,1.0),(20.0,0.5),(22.0,0.9),(24.0,0.4),(26.0,0.8),(29.0,0.4),(32.0,0.9),(42.0,1.5)]
DEC_W_K12 = [(0.3,4.0),(0.8,1.2),(1.5,2.2),(2.0,0.5),(2.5,1.5),(3.0,2.6),(3.5,0.8),(4.0,1.8),(4.5,0.4),(5.0,1.3),(5.5,2.2),(6.0,0.7),(6.5,1.6),(7.0,0.4),(7.5,1.4),(8.0,2.0),(8.5,0.7),(9.0,1.4),(10.0,0.4),(11.0,1.6),(12.0,0.6),(13.0,1.2),(14.0,0.4),(15.0,1.0),(16.5,0.5),(18.0,0.9),(19.5,0.4),(21.0,0.8),(22.5,0.4),(24.0,0.8),(26.0,0.4),(28.0,0.7),(30.0,0.4),(32.5,0.8),(36.0,1.4)]
DEC_W_K14 = [(0.3,3.4),(0.8,1.2),(1.5,2.0),(2.0,0.5),(2.5,1.6),(3.0,2.4),(3.5,0.8),(4.0,1.8),(4.5,0.4),(5.0,1.3),(5.5,2.2),(6.0,0.7),(6.5,1.5),(7.0,0.4),(7.5,1.4),(8.0,2.0),(8.5,0.7),(9.0,1.4),(9.5,0.4),(10.0,1.1),(11.0,1.8),(12.0,0.6),(13.0,1.2),(14.0,0.4),(15.0,1.0),(16.0,1.5),(17.0,0.5),(18.5,0.9),(20.0,0.4),(22.0,0.8),(24.0,0.4),(27.0,0.6),(30.5,0.3)]
DEC_W_K16 = [(0.3,3.0),(0.8,1.1),(1.5,1.8),(2.0,0.5),(2.5,1.4),(3.0,2.2),(3.5,0.7),(4.0,1.6),(4.5,0.4),(5.0,1.2),(5.5,2.0),(6.0,0.6),(6.5,1.4),(7.0,0.4),(7.5,1.3),(8.0,1.9),(8.5,0.6),(9.0,1.3),(10.0,0.4),(11.0,1.6),(12.0,0.6),(13.0,1.1),(14.0,0.4),(15.0,0.9),(16.5,1.4),(18.0,0.5),(20.0,0.9),(22.0,0.4),(24.0,0.8),(26.5,0.4),(29.0,0.7),(32.0,0.4),(35.5,0.8)]

DEC_N_K2 = [(0.3,1.5),(0.8,0.6),(1.5,1.2),(2.0,0.3),(2.5,1.8),(3.0,0.8),(3.5,1.4),(4.0,0.4),(4.5,1.0),(5.0,1.8),(5.5,0.5),(6.0,1.2),(6.5,0.3),(7.0,1.0),(7.5,1.6),(8.0,0.6),(8.5,1.2),(9.0,0.4),(9.5,0.9),(10.0,0.5),(2.0,2.4),(5.0,2.6)]
DEC_N_K4 = [(0.3,1.3),(0.8,0.5),(1.5,1.0),(2.0,0.3),(2.5,1.6),(3.0,0.7),(3.5,1.2),(4.0,0.3),(4.5,0.9),(5.0,1.6),(5.5,0.4),(6.0,1.1),(6.5,0.3),(7.0,0.9),(7.5,1.4),(8.0,0.5),(8.5,1.0),(9.0,0.3),(9.5,0.8),(2.0,2.2),(5.0,2.2)]
DEC_N_K6 = [(0.3,1.2),(0.8,0.5),(1.5,0.9),(2.0,0.3),(2.5,1.5),(3.0,0.6),(3.5,1.1),(4.0,0.3),(4.5,0.8),(5.0,1.5),(5.5,0.4),(6.0,1.0),(6.5,0.3),(7.0,0.8),(7.5,1.3),(8.0,0.4),(8.5,0.9),(9.0,0.3),(9.5,0.7),(2.0,2.0),(5.0,2.0)]
DEC_N_K8 = [(0.3,1.2),(0.8,0.4),(1.5,0.9),(2.0,0.3),(2.5,1.4),(3.0,0.6),(3.5,1.0),(4.0,0.3),(4.5,0.8),(5.0,1.4),(5.5,0.4),(6.0,1.0),(6.5,0.3),(7.0,0.8),(7.5,1.2),(8.0,0.4),(8.5,0.8),(9.0,0.3),(2.0,1.9),(4.5,2.0)]
DEC_N_K10 = [(0.3,1.1),(0.8,0.4),(1.5,0.9),(2.0,0.3),(2.5,1.3),(3.0,0.5),(3.5,1.0),(4.0,0.3),(4.5,0.7),(5.0,1.3),(5.5,0.4),(6.0,0.9),(6.5,0.3),(7.0,0.7),(7.5,1.2),(8.0,0.4),(8.5,0.8),(9.0,0.3),(2.0,1.8),(5.0,1.9)]
DEC_N_K12 = [(0.3,1.1),(0.8,0.4),(1.5,0.8),(2.0,0.3),(2.5,1.3),(3.0,0.5),(3.5,0.9),(4.0,0.3),(4.5,0.7),(5.0,1.3),(5.5,0.4),(6.0,0.9),(6.5,0.3),(7.0,0.7),(7.5,1.1),(8.0,0.4),(8.5,0.8),(9.5,0.4),(2.0,1.8),(5.0,1.8)]
DEC_N_K14 = [(0.3,1.0),(0.8,0.4),(1.5,0.8),(2.0,0.3),(2.5,1.2),(3.0,0.5),(3.5,0.9),(4.0,0.3),(4.5,0.7),(5.0,1.2),(5.5,0.4),(6.0,0.9),(6.5,0.3),(7.0,0.7),(7.5,1.1),(8.0,0.4),(8.5,0.7),(9.0,0.3),(2.0,1.7),(4.5,1.7)]
DEC_N_K16 = [(0.3,1.0),(0.8,0.4),(1.5,0.8),(2.0,0.3),(2.5,1.2),(3.0,0.5),(3.5,0.9),(4.0,0.3),(4.5,0.7),(5.0,1.2),(5.5,0.4),(6.0,0.8),(6.5,0.3),(7.0,0.7),(7.5,1.1),(8.0,0.4),(8.5,0.7),(9.5,0.4),(2.0,1.7),(5.0,1.8)]

DEC_E_K2 = [(0.4,6.1),(3.3,4.0),(4.0,2.6),(4.8,1.8),(5.5,1.2),(6.0,0.9),(6.5,0.4),(7.2,0.8),(8.0,1.5),(8.7,1.1),(9.0,2.5),(9.3,4.0),(10.0,3.2),(10.7,4.7),(11.3,3.0),(12.0,2.0),(12.7,1.1),(13.3,0.6),(14.0,0.8),(14.7,1.2),(15.3,1.6),(16.0,1.9),(16.7,2.3),(17.3,2.0),(5.0,0.3),(7.8,0.3),(11.0,0.6),(15.0,0.4),(28.0,2.9),(30.0,0.4),(31.0,0.8),(33.3,1.9),(34.0,2.6),(36.3,4.9),(2.0,4.8)]
DEC_E_K4 = [(0.4,4.9),(2.0,2.9),(3.1,3.7),(3.5,1.5),(4.0,0.6),(4.5,2.0),(5.0,1.2),(5.5,2.6),(6.0,0.5),(6.5,1.8),(7.0,1.0),(7.5,2.4),(8.0,0.6),(8.5,1.6),(9.0,2.2),(9.5,0.8),(10.0,1.8),(10.5,0.4),(11.0,1.4),(11.5,2.4),(12.0,1.0),(12.9,4.3),(13.0,1.8),(13.5,0.6),(14.0,1.4),(14.5,2.0),(15.0,0.8),(15.5,1.4),(16.0,0.5),(16.5,1.0),(17.0,0.6),(28.0,0.3),(30.0,1.9),(30.8,1.2),(33.7,1.1),(34.7,2.1),(36.4,4.0)]
DEC_E_K6 = [(0.5,3.6),(2.0,2.2),(3.0,1.2),(3.5,2.4),(4.0,0.5),(4.5,1.6),(5.0,0.9),(5.5,2.0),(6.0,0.4),(6.5,1.4),(7.0,0.8),(7.5,1.8),(8.0,0.5),(8.5,1.4),(9.0,2.0),(9.5,0.7),(10.0,1.5),(10.5,0.4),(11.0,1.2),(11.5,2.0),(12.0,0.8),(12.5,1.5),(13.0,0.5),(13.5,1.2),(14.0,1.8),(14.5,0.6),(15.0,1.2),(15.5,0.4),(16.0,0.9),(17.0,0.5),(6.0,3.0),(28.0,0.4),(29.5,1.6),(31.0,0.8),(33.5,1.2),(35.0,2.2),(36.5,3.4)]
DEC_E_K8 = [(0.5,3.0),(2.0,1.8),(3.0,1.0),(3.5,2.0),(4.0,0.4),(4.5,1.4),(5.0,0.8),(5.5,1.8),(6.0,0.4),(6.5,1.2),(7.0,0.7),(7.5,1.6),(8.0,0.4),(8.5,1.2),(9.0,1.8),(9.5,0.6),(10.0,1.3),(10.5,0.4),(11.0,1.1),(11.5,1.8),(12.0,0.7),(12.5,1.4),(13.0,0.4),(13.5,1.1),(14.0,1.6),(14.5,0.5),(15.0,1.1),(15.5,0.4),(16.0,0.8),(17.0,0.4),(10.0,2.8),(28.0,0.4),(30.0,1.4),(31.5,0.6),(34.0,1.0),(35.5,2.6),(36.5,1.6)]
DEC_E_K10 = [(0.5,3.2),(2.0,1.6),(3.0,0.9),(3.5,1.9),(4.0,0.4),(4.5,1.3),(5.0,0.7),(5.5,1.7),(6.0,0.4),(6.5,1.1),(7.0,0.6),(7.5,1.5),(8.0,0.4),(8.5,1.1),(9.0,1.7),(9.5,0.5),(10.0,1.2),(10.5,0.4),(11.0,1.0),(11.5,1.7),(12.0,0.6),(12.5,1.3),(13.0,0.4),(13.5,1.0),(14.0,1.5),(14.5,0.5),(15.0,1.0),(15.5,0.4),(16.0,0.8),(17.0,0.4),(9.0,2.8),(28.0,0.3),(29.5,1.2),(31.0,0.5),(33.5,0.9),(35.0,2.2),(36.0,1.4)]
DEC_E_K12 = [(0.5,2.6),(2.0,1.5),(3.0,0.8),(3.5,1.8),(4.0,0.4),(4.5,1.2),(5.0,0.6),(5.5,1.6),(6.0,0.4),(6.5,1.0),(7.0,0.6),(7.5,1.4),(8.0,0.4),(8.5,1.0),(9.0,1.6),(9.5,0.5),(10.0,1.1),(10.5,0.4),(11.0,0.9),(11.5,1.6),(12.0,0.6),(12.5,1.2),(13.0,0.4),(13.5,0.9),(14.0,1.4),(14.5,0.5),(15.0,0.9),(15.5,0.4),(16.0,0.7),(17.0,0.4),(28.0,0.3),(30.0,0.9),(32.0,0.5),(34.0,2.2),(35.5,0.6)]
DEC_E_K14 = [(3.3,1.1),(3.5,1.8),(4.0,0.4),(4.5,1.2),(5.0,0.6),(5.5,1.5),(6.0,0.4),(6.5,1.0),(7.0,0.6),(7.5,1.4),(8.0,0.4),(8.5,1.0),(9.0,1.6),(9.5,0.5),(10.0,1.1),(10.5,0.4),(11.0,0.9),(11.3,4.0),(11.5,1.6),(12.0,0.6),(12.5,1.2),(13.0,0.4),(13.5,0.9),(14.0,1.4),(14.5,0.5),(15.0,0.9),(15.5,0.4),(16.0,0.7),(17.0,0.4),(10.5,2.6),(28.0,0.3),(30.0,0.7),(32.0,0.7),(34.0,3.3),(36.0,2.9)]
DEC_E_K16 = [(2.0,1.0),(3.3,1.9),(4.0,0.4),(4.5,1.2),(5.0,0.6),(5.5,1.5),(6.0,0.4),(6.5,1.0),(7.0,0.6),(7.5,1.4),(8.0,0.4),(8.5,1.0),(9.0,1.5),(9.5,0.5),(10.0,1.1),(10.5,0.4),(11.0,0.9),(11.5,1.6),(12.0,0.6),(12.5,1.2),(13.0,0.4),(13.5,0.9),(14.0,1.4),(14.5,0.5),(15.0,0.9),(15.5,0.4),(16.0,0.7),(17.0,0.4),(28.0,0.3),(30.0,0.8),(31.5,0.6),(34.7,3.3),(36.0,2.9)]

JULY_PANELS = [
    [JUL_HOR_K2, JUL_HOR_K4, JUL_HOR_K6, JUL_HOR_K8, JUL_HOR_K10, JUL_HOR_K12, JUL_HOR_K14, JUL_HOR_K16],
    [JUL_S_K2, JUL_S_K4, JUL_S_K6, JUL_S_K8, JUL_S_K10, JUL_S_K12, JUL_S_K14, JUL_S_K16],
    [JUL_W_K2, JUL_W_K4, JUL_W_K6, JUL_W_K8, JUL_W_K10, JUL_W_K12, JUL_W_K14, JUL_W_K16],
    [JUL_N_K2, JUL_N_K4, JUL_N_K6, JUL_N_K8, JUL_N_K10, JUL_N_K12, JUL_N_K14, JUL_N_K16],
    [JUL_E_K2, JUL_E_K4, JUL_E_K6, JUL_E_K8, JUL_E_K10, JUL_E_K12, JUL_E_K14, JUL_E_K16],
]
DEC_PANELS = [
    [DEC_HOR_K2, DEC_HOR_K4, DEC_HOR_K6, DEC_HOR_K8, DEC_HOR_K10, DEC_HOR_K12, DEC_HOR_K14, DEC_HOR_K16],
    [DEC_S_K2, DEC_S_K4, DEC_S_K6, DEC_S_K8, DEC_S_K10, DEC_S_K12, DEC_S_K14, DEC_S_K16],
    [DEC_W_K2, DEC_W_K4, DEC_W_K6, DEC_W_K8, DEC_W_K10, DEC_W_K12, DEC_W_K14, DEC_W_K16],
    [DEC_N_K2, DEC_N_K4, DEC_N_K6, DEC_N_K8, DEC_N_K10, DEC_N_K12, DEC_N_K14, DEC_N_K16],
    [DEC_E_K2, DEC_E_K4, DEC_E_K6, DEC_E_K8, DEC_E_K10, DEC_E_K12, DEC_E_K14, DEC_E_K16],
]

# ---------------- style / layout ----------------
FONT = "Liberation Sans"
PAGE_BG = "#f7f7f7"
PANEL_BG = "#dcedf6"
MAJOR_GRID = "#a3cde1"
MINOR_GRID = "#bcdcea"
OUTLINE = "#3a3a3a"
DIAG = "#e0594b"
STRIP_FILL = "#f2e4e4"
STRIP_LINE = "#a8a8a8"
TICK_COLOR = "#3a3a3a"
TICK_LABEL = "#4a4a4a"

XR = (-0.7, 55.1)
YR = (-0.2, 54.7)
FW, FH = 140, 130
GAP_L, GAP_R, GAP_T = 2, 1, 2
GAP_B_ROWS = [3, 2, 3, 2]
LEFT_B, TOP_B, BOT_B = 35, 32, 28
YLAB_W = 36
STRIP_BOX = dict(left=0.5, right=17.0, bottom=45.4, top=52.8)
STRIP_TXT = (8.75, 49.1)


def panel(pts, orient, ci, ri, header):
    nrow = len(ORIENTS)
    last = ri == nrow - 1
    p = figure(frame_width=FW, frame_height=FH,
               x_range=Range1d(*XR), y_range=Range1d(*YR),
               x_axis_location="below" if last else None,
               y_axis_location="left" if ci == 0 else None,
               output_backend="svg", toolbar_location=None, tools="",
               min_border_left=LEFT_B if ci == 0 else GAP_L,
               min_border_right=GAP_R,
               min_border_top=TOP_B if ri == 0 else GAP_T,
               min_border_bottom=BOT_B if last else GAP_B_ROWS[ri],
               background_fill_color=PANEL_BG, border_fill_color=PAGE_BG,
               outline_line_color=OUTLINE, outline_line_width=1.6)
    if ri == 0:
        p.title.text = header
        p.title.align = "center"
        p.title.text_font = FONT
        p.title.text_font_size = "17px"
        p.title.text_font_style = "normal"
        p.title.text_color = "#111111"
        p.title.standoff = 5
    for g in (p.xgrid, p.ygrid):
        g.ticker = FixedTicker(ticks=MAJOR_TICKS, minor_ticks=MINOR_TICKS)
        g.grid_line_color = MAJOR_GRID
        g.grid_line_width = 1.8
        g.minor_grid_line_color = MINOR_GRID
        g.minor_grid_line_width = 1.0
    for ax in list(p.xaxis) + list(p.yaxis):
        ax.ticker = FixedTicker(ticks=MAJOR_TICKS)
        ax.axis_line_color = None
        ax.major_tick_line_color = TICK_COLOR
        ax.major_tick_line_width = 1.4
        ax.major_tick_in = 0
        ax.major_tick_out = 6
        ax.minor_tick_line_color = None
        ax.major_label_text_font = FONT
        ax.major_label_text_font_size = "14px"
        ax.major_label_text_color = TICK_LABEL
        ax.major_label_standoff = 4
    for ax in p.yaxis:
        ax.major_label_orientation = "vertical"
    p.add_layout(Slope(gradient=1, y_intercept=0, line_color=DIAG, line_width=1.3))
    xs = [a for a, b in pts]
    ys = [b for a, b in pts]
    p.scatter(xs, ys, size=3.0, fill_color="black", line_color="black", line_width=0.3)
    p.add_layout(BoxAnnotation(fill_color=STRIP_FILL, fill_alpha=1.0, line_color=STRIP_LINE,
                               line_width=1, line_alpha=1.0, **STRIP_BOX))
    p.add_layout(Label(x=STRIP_TXT[0], y=STRIP_TXT[1], text=orient, text_align="center",
                       text_baseline="middle", text_font=FONT, text_font_size="14px",
                       text_color="#333333"))
    return p


def text_fig(w, h, txt, fx, fy, angle):
    p = figure(width=w, height=h, x_range=Range1d(0, 1), y_range=Range1d(0, 1),
               output_backend="svg", toolbar_location=None, tools="",
               min_border_left=0, min_border_right=0, min_border_top=0, min_border_bottom=0,
               x_axis_location=None, y_axis_location=None, outline_line_color=None,
               background_fill_color=PAGE_BG, border_fill_color=PAGE_BG)
    p.grid.visible = False
    p.text(x=[fx], y=[fy], text=[txt], angle=angle, text_align="center", text_baseline="middle",
           text_font=value(FONT), text_font_size="18px", text_color="#111111")
    return p


def block(panels, ytitle, xtitle, xt_h, xt_y):
    nrow, ncol = len(ORIENTS), len(K_LABELS)
    rows = []
    for ri in range(nrow):
        rows.append(row([panel(panels[ri][ci], ORIENTS[ri], ci, ri, K_LABELS[ci])
                         for ci in range(ncol)], spacing=0))
    grid_h = TOP_B + nrow * FH + (nrow - 1) * GAP_T + sum(GAP_B_ROWS) + BOT_B
    grid_w = (LEFT_B + FW + GAP_R) + (ncol - 1) * (GAP_L + FW + GAP_R)
    frames_top = TOP_B
    frames_bot = grid_h - BOT_B
    ycen = (grid_h - (frames_top + frames_bot) / 2) / grid_h
    xcen = (LEFT_B + grid_w - GAP_R) / 2 / grid_w
    ylab = text_fig(YLAB_W, grid_h, ytitle, 0.5, ycen, math.pi / 2)
    xlab = text_fig(grid_w, xt_h, xtitle, xcen, xt_y, 0)
    return row(ylab, column(rows + [xlab], spacing=0), spacing=0)


top = block(JULY_PANELS, JUL_YTITLE, JUL_XTITLE, 24, 0.52)
bottom = block(DEC_PANELS, DEC_YTITLE, DEC_XTITLE, 20, 0.45)
layout = column(top, Spacer(width=1213, height=108), bottom, spacing=0,
                styles={"background-color": PAGE_BG})

open("out.html", "w").write(file_html(layout, INLINE, title="Solar irradiation deviation"))
